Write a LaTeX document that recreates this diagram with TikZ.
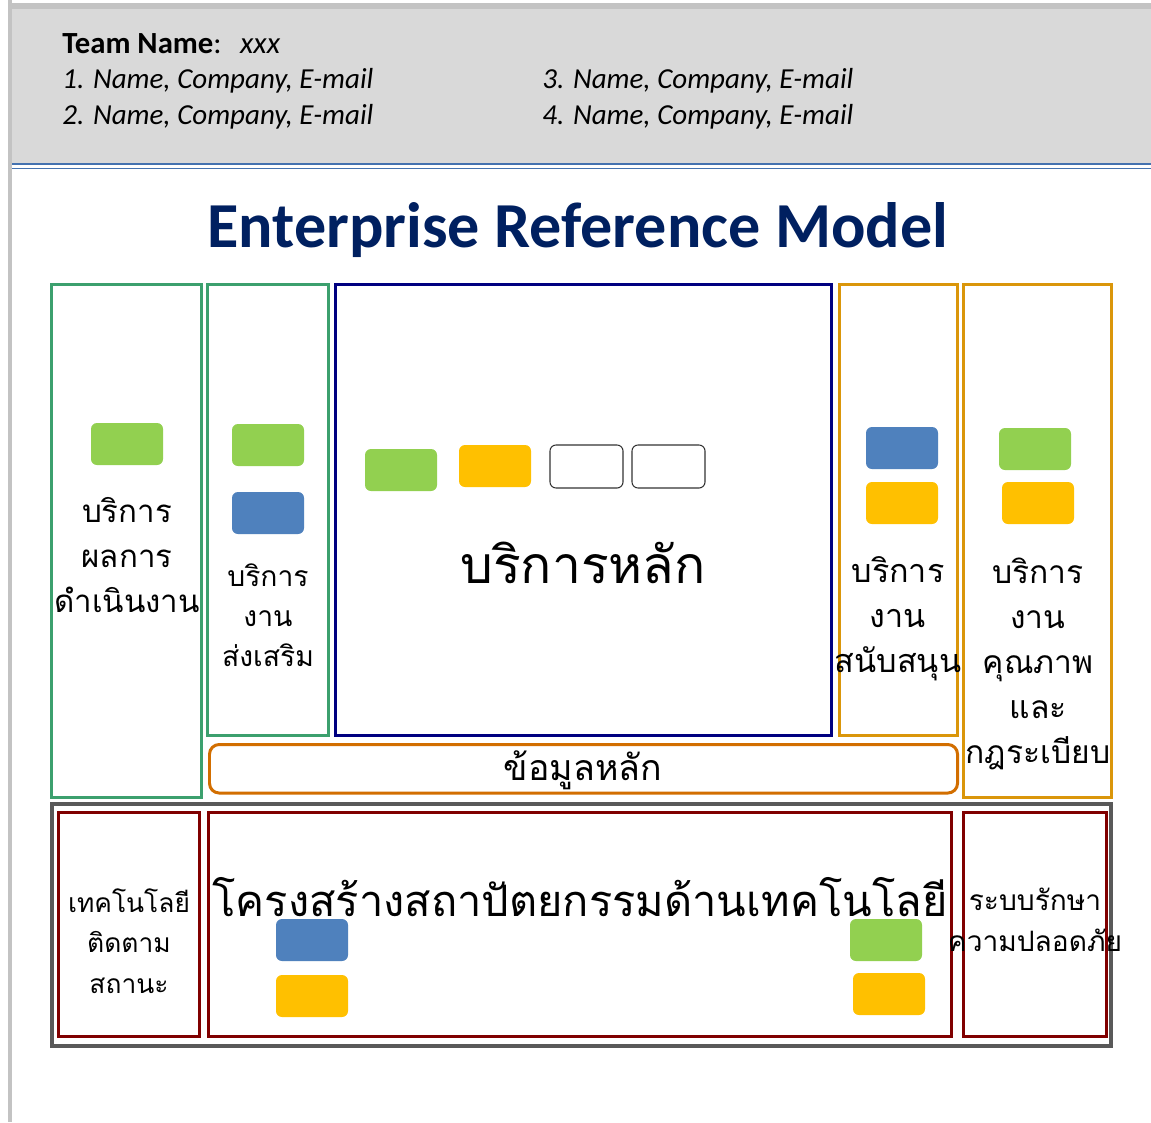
\documentclass[tikz,border=0pt]{standalone}
\usepackage{fontspec}
\setmainfont{Carlito}
\newfontfamily\thaifont[Script=Thai]{Loma}
\begin{document}
\begin{tikzpicture}[x=0.02cm,y=-0.02cm,line join=miter]
\definecolor{pagegray}{RGB}{195,195,195}
\definecolor{headgray}{RGB}{217,217,217}
\definecolor{ruleblue}{RGB}{68,114,176}
\definecolor{titlenavy}{RGB}{0,32,96}
\definecolor{svcgreen}{RGB}{60,160,110}
\definecolor{corenavy}{RGB}{0,0,128}
\definecolor{svcamber}{RGB}{218,150,10}
\definecolor{dataorange}{RGB}{210,110,0}
\definecolor{framegray}{RGB}{89,89,89}
\definecolor{infamaroon}{RGB}{128,0,0}
\definecolor{chipgreen}{RGB}{146,208,80}
\definecolor{chipyellow}{RGB}{255,192,0}
\definecolor{chipblue}{RGB}{79,129,189}

\tikzset{
  thailabel/.style 2 args={font=\thaifont\fontsize{#1}{#2}\selectfont, align=center, inner sep=0pt},
  memberline/.style={anchor=base west, font=\fontsize{16.5}{19}\selectfont\itshape, inner sep=0pt},
  bigbox/.style={line width=1.7pt},
}

\newcommand{\chip}[3]{
  \fill[#1, rounded corners=3.4pt] (#2,#3) rectangle ++(72,42);
}

\newcommand{\emptychip}[2]{
  \draw[black!80, line width=0.6pt, rounded corners=3.4pt] (#1,#2) rectangle ++(73,43);
}

\useasboundingbox (0,0) rectangle (1151,1122);
\fill[white] (0,0) rectangle (1151,1122);

% page edge and header band
\fill[pagegray] (8,0) rectangle (12,1122);
\fill[pagegray] (12,3) rectangle (1151,9);
\fill[headgray] (12,9) rectangle (1151,163);
\draw[ruleblue, line width=0.7pt] (12,164) -- (1151,164);
\draw[ruleblue, line width=0.7pt] (12,168.5) -- (1151,168.5);

\node[anchor=base west, font=\fontsize{17.5}{20}\selectfont, inner sep=0pt] (team) at (62,53)
  {\textbf{Team Name}:\hspace{0.6em}\textit{xxx}};
\node[memberline] (m1) at (62,89) {1. Name, Company, E-mail};
\node[memberline] (m2) at (62,124) {2. Name, Company, E-mail};
\node[memberline] (m3) at (542,89) {3. Name, Company, E-mail};
\node[memberline] (m4) at (542,124) {4. Name, Company, E-mail};

\node[font=\fontsize{36.5}{40}\selectfont\bfseries, text=titlenavy] (title) at (578,230)
  {Enterprise Reference Model};

% service columns
\draw[bigbox, svcgreen] (51.5,284.5) rectangle (201.5,797);
\draw[bigbox, svcgreen] (207.5,284.5) rectangle (328,735);
\draw[bigbox, corenavy] (335.5,284.5) rectangle (831,735);
\draw[bigbox, svcamber] (839.5,284.5) rectangle (957.5,735);
\draw[bigbox, svcamber] (963.5,284.5) rectangle (1111.5,797);
\draw[bigbox, dataorange, rounded corners=5.5pt] (209.5,744.5) rectangle (957.5,793);

% infrastructure band
\draw[framegray, line width=2.3pt] (52,804) rectangle (1111,1046);
\draw[bigbox, infamaroon] (58.5,812) rectangle (199.5,1036);
\draw[bigbox, infamaroon] (208.5,812) rectangle (951.5,1036);
\draw[bigbox, infamaroon] (963.5,812) rectangle (1106.5,1036);

% chips
\chip{chipgreen}{91}{423}
\chip{chipgreen}{232}{424}
\chip{chipblue}{232}{492}
\chip{chipgreen}{365}{449}
\chip{chipyellow}{459}{445}
\emptychip{550}{445}
\emptychip{632}{445}
\chip{chipblue}{866}{427}
\chip{chipyellow}{866}{482}
\chip{chipgreen}{999}{428}
\chip{chipyellow}{1002}{482}
\chip{chipblue}{276}{919}
\chip{chipyellow}{276}{975}
\chip{chipgreen}{850}{919}
\chip{chipyellow}{853}{973}

% labels
\node[thailabel={17.8}{25.5}] (results) at (127,555) {บริการ\\ผลการ\\ดำเนินงาน};
\node[thailabel={16.1}{22.7}] (promote) at (268,615) {บริการ\\งาน\\ส่งเสริม};
\node[thailabel={29.4}{34}] (core) at (583,563) {บริการหลัก};
\node[thailabel={18.4}{25.5}] (support) at (898,619) {บริการ\\งาน\\สนับสนุน};
\node[thailabel={18.1}{25.5}] (quality) at (1038,664) {บริการ\\งาน\\คุณภาพ\\และ\\กฎระเบียบ};
\node[thailabel={20.3}{25.5}] (masterdata) at (583,770) {ข้อมูลหลัก};
\node[thailabel={15}{23.2}] (tracking) at (129,941) {เทคโนโลยี\\ติดตาม\\สถานะ};
\node[thailabel={24.7}{30}] (infra) at (580,897) {โครงสร้างสถาปัตยกรรมด้านเทคโนโลยี};
\node[thailabel={16}{23.2}] (security) at (1035,919.5) {ระบบรักษา\\ความปลอดภัย};
\end{tikzpicture}
\end{document}
